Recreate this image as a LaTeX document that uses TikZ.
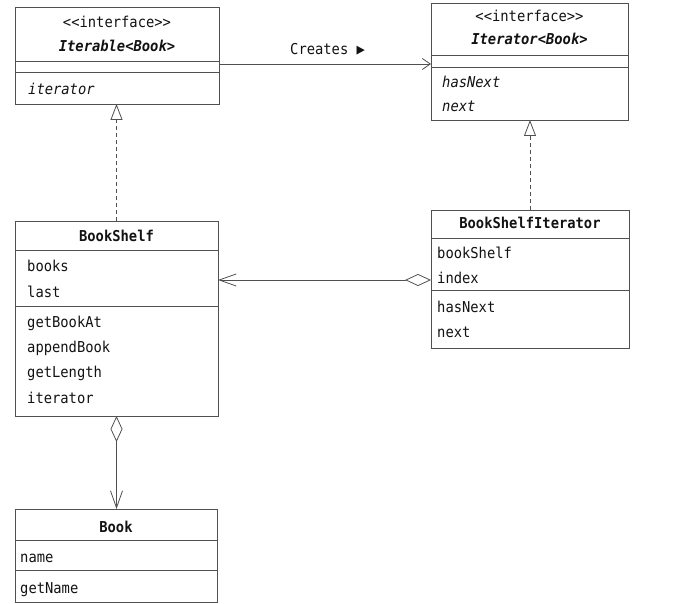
\documentclass[tikz,border=0pt]{standalone}
\usepackage{fontspec}
\setmonofont[FakeStretch=0.92]{DejaVu Sans Mono}
\usetikzlibrary{arrows.meta}
\definecolor{umlline}{HTML}{505050}
\definecolor{umltext}{HTML}{121212}
\newcommand\umlfont{\ttfamily\fontsize{15}{18}\selectfont}

\tikzset{
  cls/.style={draw=umlline, line width=0.9pt, rectangle, anchor=north west,
              inner sep=0pt, outer sep=0pt},
  sep/.style={draw=umlline, line width=0.9pt},
  ttl/.style={anchor=base, inner sep=0pt, text=umltext, font=\umlfont},
  lbl/.style={anchor=base west, inner sep=0pt, text=umltext, font=\umlfont},
  realize/.style={draw=umlline, line width=0.8pt, dash pattern=on 4pt off 3pt,
                  -{Triangle[length=16pt,width=12pt,fill=white,line width=0.8pt]}},
  creates/.style={draw=umlline, line width=0.8pt,
                  -{Straight Barb[length=8pt,width=11pt,line width=0.8pt]}},
  aggr/.style={draw=umlline, line width=0.8pt,
               {Diamond[length=26pt,width=12pt,fill=white,line width=0.8pt]}-{Straight Barb[length=17pt,width=12pt,line width=0.8pt]}},
}

\begin{document}
\begin{tikzpicture}[x=1pt,y=-1pt]
\useasboundingbox (0,0) rectangle (673,604);

% Iterable<Book>
\node[cls, minimum width=204pt, minimum height=97pt] (iterable) at (15,7) {};
\draw[sep] (iterable.west |- 0,61) -- (iterable.east |- 0,61);
\draw[sep] (iterable.west |- 0,72) -- (iterable.east |- 0,72);
\node[ttl] (iterable-st) at (iterable.north |- 0,28) {<{}<interface>{}>};
\node[ttl, font=\umlfont\bfseries\itshape] (iterable-nm) at (iterable.north |- 0,52) {Iterable<Book>};
\node[lbl, font=\umlfont\itshape] (iterable-m1) at (28,95) {iterator};

% Iterator<Book>
\node[cls, minimum width=197pt, minimum height=117pt] (iterator) at (431,3) {};
\draw[sep] (iterator.west |- 0,55) -- (iterator.east |- 0,55);
\draw[sep] (iterator.west |- 0,67) -- (iterator.east |- 0,67);
\node[ttl] (iterator-st) at (iterator.north |- 0,22) {<{}<interface>{}>};
\node[ttl, font=\umlfont\bfseries\itshape] (iterator-nm) at (iterator.north |- 0,45) {Iterator<Book>};
\node[lbl, font=\umlfont\itshape] (iterator-m1) at (442,88) {hasNext};
\node[lbl, font=\umlfont\itshape] (iterator-m2) at (442,112) {next};

% BookShelf
\node[cls, minimum width=203pt, minimum height=195pt] (bookshelf) at (15,221) {};
\draw[sep] (bookshelf.west |- 0,250) -- (bookshelf.east |- 0,250);
\draw[sep] (bookshelf.west |- 0,306) -- (bookshelf.east |- 0,306);
\node[ttl, font=\umlfont\bfseries] (bookshelf-nm) at (bookshelf.north |- 0,242) {BookShelf};
\node[lbl] (bookshelf-a1) at (27,272) {books};
\node[lbl] (bookshelf-a2) at (27,298) {last};
\node[lbl] (bookshelf-m1) at (27,328) {getBookAt};
\node[lbl] (bookshelf-m2) at (27,353) {appendBook};
\node[lbl] (bookshelf-m3) at (27,378) {getLength};
\node[lbl] (bookshelf-m4) at (27,403) {iterator};

% BookShelfIterator
\node[cls, minimum width=198pt, minimum height=138pt] (bsi) at (431,210) {};
\draw[sep] (bsi.west |- 0,238) -- (bsi.east |- 0,238);
\draw[sep] (bsi.west |- 0,290) -- (bsi.east |- 0,290);
\node[ttl, font=\umlfont\bfseries] (bsi-nm) at (bsi.north |- 0,229) {BookShelfIterator};
\node[lbl] (bsi-a1) at (437,259) {bookShelf};
\node[lbl] (bsi-a2) at (437,284) {index};
\node[lbl] (bsi-m1) at (437,313) {hasNext};
\node[lbl] (bsi-m2) at (437,338) {next};

% Book
\node[cls, minimum width=202pt, minimum height=93pt] (book) at (15,509) {};
\draw[sep] (book.west |- 0,540) -- (book.east |- 0,540);
\draw[sep] (book.west |- 0,570) -- (book.east |- 0,570);
\node[ttl, font=\umlfont\bfseries] (book-nm) at (book.north |- 0,532) {Book};
\node[lbl] (book-a1) at (20,562) {name};
\node[lbl] (book-m1) at (20,593) {getName};

% Relations
\draw[creates] (iterable.east |- 0,64) -- (iterator.west |- 0,64);
\node[lbl] (creates-lbl) at (290,55) {Creates ▶};
\draw[realize] (bookshelf.north) -- (bookshelf.north |- iterable.south);
\draw[realize] (bsi.north) -- (bsi.north |- iterator.south);
\draw[aggr] (bsi.west |- 0,280) -- (bookshelf.east |- 0,280);
\draw[aggr] (bookshelf.south) -- (bookshelf.south |- book.north);
\end{tikzpicture}
\end{document}
